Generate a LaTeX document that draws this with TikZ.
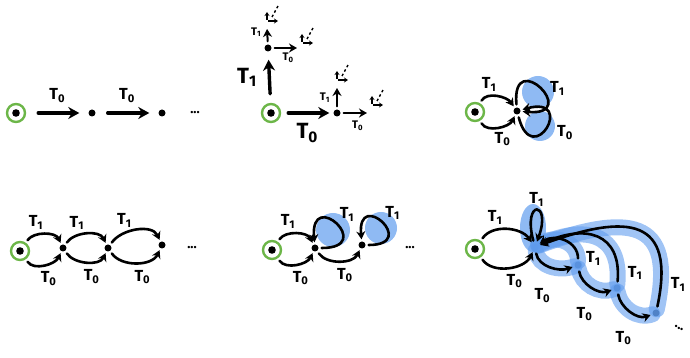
\documentclass[tikz,border=0pt]{standalone}
\usepackage{fontspec}
\setsansfont{Fira Sans}
\usetikzlibrary{arrows.meta}
\definecolor{ringgreen}{RGB}{108,182,72}
\definecolor{loopblue}{RGB}{96,156,238}
\tikzset{
  % The start state: green ring with a black dot
  startstate/.style={
    circle,draw=ringgreen,line width=2.4pt,
    minimum size=18pt,inner sep=0pt,
    path picture={\fill[black] (path picture bounding box.center) circle (3.8pt);}},
  % The other states
  dot/.style={circle,fill=black,minimum size=7pt,inner sep=0pt},
  more/.style={font=\sffamily\bfseries\fontsize{13}{13}\selectfont,inner sep=0pt},
  % Labels
  lbl/.style={font=\sffamily\bfseries\fontsize{16}{16}\selectfont,inner sep=1pt},
  biglbl/.style={lbl,font=\sffamily\bfseries\fontsize{22}{22}\selectfont},
  smalllbl/.style={lbl,font=\sffamily\bfseries\fontsize{11}{11}\selectfont},
  % Moves
  move/.style={line width=2.6pt,line cap=round,
    -{Stealth[length=8pt,width=9pt]},shorten >=2pt,shorten <=3pt},
  bigmove/.style={move,line width=3.4pt,-{Stealth[length=11pt,width=12pt]}},
  tinymove/.style={line width=1.6pt,-{Stealth[length=4pt,width=5pt]}},
  % Blue highlighting
  hl/.style={fill=loopblue,fill opacity=0.7},
  band/.style={draw=loopblue,line width=16pt,opacity=0.6,line cap=round},
  % tiny unfinished branches
  sprout/.pic={
    \draw[tinymove] (0,1) -- (0,9);
    \draw[tinymove] (1,0) -- (11,0);
    \draw[line width=1.4pt,dash pattern=on 2.5pt off 2.5pt] (5,4) -- (11,15);}
}

\begin{document}
\begin{tikzpicture}[x=1pt,y=1pt]
	\useasboundingbox (0,0) rectangle (690,358);
	% Top left: a chain
	\node[startstate] (a0) at (16,245) {};
	\node[dot] (a1) at (92,245) {};
	\node[dot] (a2) at (162,245) {};
	\node[more] (a3) at (195,245) {...};
	\draw[bigmove,shorten <=12pt,shorten >=9pt] (a0) -- node[lbl,above=8pt] {T\textsubscript{0}} (a1);
	\draw[bigmove,shorten <=12pt,shorten >=9pt] (a1) -- node[lbl,above=8pt] {T\textsubscript{0}} (a2);
	% Top middle: a tree
	\node[startstate] (b0) at (271,245) {};
	\node[dot] (b1) at (337,245) {};
	\node[dot] (b2) at (268,310) {};
	\coordinate (b2u) at (267,331);
	\coordinate (b2r) at (299,310);
	\coordinate (b1u) at (337,272);
	\coordinate (b1r) at (369,245);
	\draw[bigmove,shorten <=7pt,shorten >=4pt] (b0) -- node[biglbl,below=8pt] {T\textsubscript{0}} (b1);
	\draw[bigmove,shorten <=9pt,shorten >=8pt] (b0) -- node[biglbl,left=10pt] {T\textsubscript{1}} (b2);
	% Lines out of b2
	\draw[move,line width=2pt,shorten <=3pt] (b2) -- node[smalllbl,left=4pt,pos=0.7] {T\textsubscript{1}} (b2u);
	\draw[move,line width=2pt,shorten <=3pt] (b2) -- node[smalllbl,below=3pt,pos=0.6] {T\textsubscript{0}} (b2r);
	% Lines out of b1
	\draw[move,line width=2pt,shorten <=3pt] (b1) -- node[smalllbl,left=5pt] {T\textsubscript{1}} (b1u);
	\draw[move,line width=2pt,shorten <=3pt] (b1) -- node[smalllbl,below=6pt,pos=0.6] {T\textsubscript{0}} (b1r);
	\pic at ([yshift=6pt]b2u) {sprout};
	\pic at ([xshift=3pt,yshift=5pt]b2r) {sprout};
	\pic at ([yshift=6pt]b1u) {sprout};
	\pic at ([xshift=3pt,yshift=8pt]b1r) {sprout};
	% Top right: two loops
	\node[startstate] (c0) at (475,246) {};
	\node[dot] (c1) at (517,247) {};
	\fill[hl] (538,266) circle (16);
	\fill[hl] (540,232) circle (15);
	\draw[move] (c0) to[out=60,in=125] node[lbl,above=3pt,pos=0.3] {T\textsubscript{1}} (c1);
	\draw[move] (c0) to[out=-60,in=-115] node[lbl,below=4pt,pos=0.6] {T\textsubscript{0}} (c1);
	\draw[move] (c1) to[out=95,in=-5,min distance=62pt] node[lbl,right=8pt] {T\textsubscript{1}} (c1);
	\draw[move] (c1) to[out=-75,in=15,min distance=58pt] node[lbl,right=9pt,yshift=-5pt] {T\textsubscript{0}} (c1);
	% Bottom left: double chain
	\node[startstate] (e0) at (20,107) {};
	\node[dot] (e1) at (63,110) {};
	\node[dot] (e2) at (108,110) {};
	\node[dot] (e3) at (162,113) {};
	\node[more] (e4) at (192,110) {...};
	\foreach \s/\t in {e0/e1,e1/e2,e2/e3}{
		\draw[move] (\s) to[out=55,in=115] node[lbl,above=4pt,pos=0.3] {T\textsubscript{1}} (\t);
		\draw[move] (\s) to[out=-55,in=-115] node[lbl,below=6pt,pos=0.6] {T\textsubscript{0}} (\t);
	}
	% Bottom middle: loops on the chain
	\node[startstate] (f0) at (272,108) {};
	\node[dot] (f1) at (315,110) {};
	\node[dot] (f2) at (362,113) {};
	\node[more] (f3) at (410,110) {...};
	\fill[hl] (333,128) circle (17);
	\fill[hl] (381,130) circle (16);
	\draw[move] (f0) to[out=55,in=115] node[lbl,above=4pt,pos=0.3] {T\textsubscript{1}} (f1);
	\draw[move] (f0) to[out=-55,in=-115] node[lbl,below=6pt,pos=0.6] {T\textsubscript{0}} (f1);
	\draw[move] (f1) to[out=-55,in=-115] node[lbl,below=6pt,pos=0.6] {T\textsubscript{0}} (f2);
	\draw[move] (f1) to[out=0,in=95,min distance=58pt] node[lbl,above right=1pt] {T\textsubscript{1}} (f1);
	\draw[move] (f2) to[out=0,in=95,min distance=54pt] node[lbl,above right=1pt] {T\textsubscript{1}} (f2);
	% Bottom right: everything goes back
	\node[startstate] (g0) at (475,109) {};
	\node[dot] (g) at (535,111) {};
	\node[dot] (g1) at (578,93) {};
	\node[dot] (g2) at (617,70) {};
	\node[dot] (g3) at (656,45) {};
	\node[more,rotate=-30] (g4) at (679,30) {...};
	% Highlighting
	\fill[hl] (533,130) ellipse (13 and 24);
	\draw[band] (g1) to[out=90,in=35,looseness=1.2] (g);
	\draw[band] (g2) to[out=85,in=25,looseness=1.5] (g);
	\draw[band] (g3) to[out=78,in=20,looseness=1.8] (g);
	\draw[band] (g) to[out=-80,in=-160] (g1);
	\draw[band] (g1) to[out=-80,in=-160] (g2);
	\draw[band] (g2) to[out=-80,in=-160] (g3);
	% Lines out of g0 and g
	\draw[move] (g0) to[out=55,in=125] node[lbl,above=4pt,pos=0.3] {T\textsubscript{1}} (g);
	\draw[move] (g0) to[out=-55,in=-115] node[lbl,below=6pt,pos=0.6] {T\textsubscript{0}} (g);
	\draw[move] (g) to[out=105,in=70,min distance=46pt] node[lbl,above=2pt] {T\textsubscript{1}} (g);
	% Chain down
	\draw[move] (g) to[out=-80,in=-160] node[lbl,below=24pt,pos=0.3] {T\textsubscript{0}} (g1);
	\draw[move] (g1) to[out=-80,in=-160] node[lbl,below=24pt,pos=0.3] {T\textsubscript{0}} (g2);
	\draw[move] (g2) to[out=-80,in=-160] node[lbl,below=24pt,pos=0.3] {T\textsubscript{0}} (g3);
	% Lines back to g
	\draw[move] (g1) to[out=90,in=35,looseness=1.2] node[lbl,right=6pt,pos=0.05] {T\textsubscript{1}} (g);
	\draw[move] (g2) to[out=85,in=25,looseness=1.5] node[lbl,right=8pt,pos=0.08] {T\textsubscript{1}} (g);
	\draw[move] (g3) to[out=78,in=20,looseness=1.8] node[lbl,right=8pt,pos=0.1] {T\textsubscript{1}} (g);
\end{tikzpicture}
\end{document}
